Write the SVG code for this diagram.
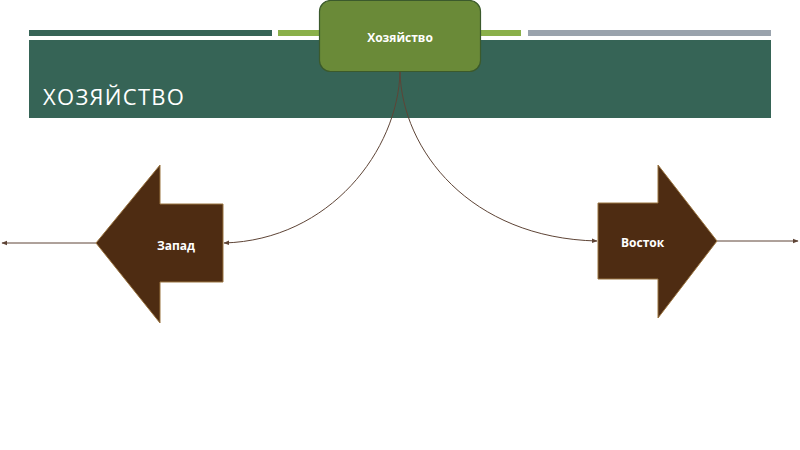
<svg xmlns="http://www.w3.org/2000/svg" width="800" height="450" viewBox="0 0 800 450">
<defs>
<style>
.conn{fill:none;stroke:#5e4436;stroke-width:1}
.arrowshape{fill:#4e2c12;stroke:#9a7440;stroke-width:1}
.lbl{font-family:"Open Sans","Liberation Sans",sans-serif;font-size:12px;font-weight:bold;fill:#ffffff}
</style>
<marker id="ah" viewBox="0 0 10 10" refX="9" refY="5" markerWidth="6" markerHeight="6" orient="auto-start-reverse" markerUnits="userSpaceOnUse">
<path d="M0,1 L10,5 L0,9 z" fill="#5e4436"/>
</marker>
</defs>
<rect width="800" height="450" fill="#ffffff"/>
<g id="header">
<rect x="29" y="30" width="243" height="6" fill="#366456"/>
<rect x="278" y="30" width="243" height="6" fill="#8ab04a"/>
<rect x="528" y="30" width="243" height="6" fill="#9aa3ad"/>
<rect x="29" y="40" width="742" height="78" fill="#366456"/>
<text x="43" y="105" font-family="'Gill Sans','Open Sans','Liberation Sans',sans-serif" font-size="22" font-weight="500" fill="#ffffff" letter-spacing="1.3">ХОЗЯЙСТВО</text>
</g>
<g id="connectors">
<path class="conn" d="M400,72 C398,150 330,240 224,243" marker-end="url(#ah)"/>
<path class="conn" d="M400,72 C402,150 470,238 597,241" marker-end="url(#ah)"/>
<path class="conn" d="M96,243 L2,243" marker-end="url(#ah)"/>
<path class="conn" d="M717,241 L798,241" marker-end="url(#ah)"/>
</g>
<g id="node-root">
<rect x="319.5" y="0.5" width="161" height="71" rx="11" fill="#6a8a38" stroke="#3b5a2c" stroke-width="1.2"/>
<text class="lbl" x="400" y="42" text-anchor="middle">Хозяйство</text>
</g>
<g id="node-west">
<polygon class="arrowshape" points="96,243 160,165 160,204 223,204 223,282 160,282 160,323"/>
<text class="lbl" x="157" y="250" font-weight="600">Запад</text>
</g>
<g id="node-east">
<polygon class="arrowshape" points="598,203 658,203 658,165 717,241 658,318 658,279 598,279"/>
<text class="lbl" x="621" y="247">Восток</text>
</g>
</svg>
